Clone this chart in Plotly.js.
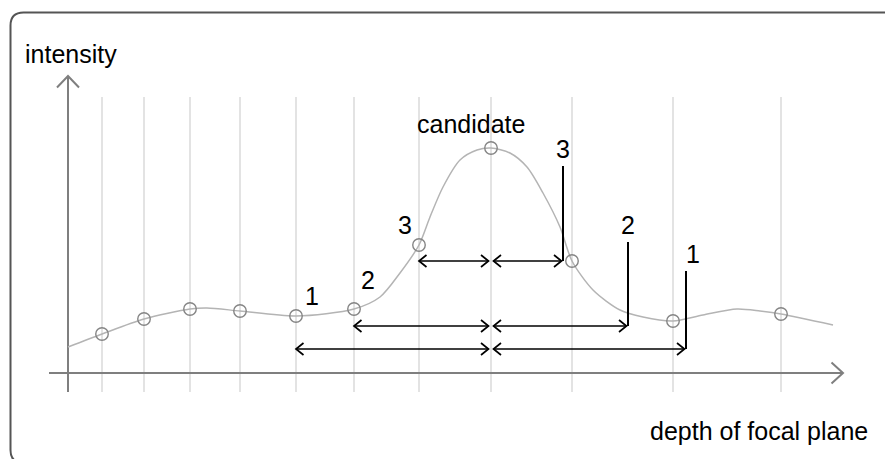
<!DOCTYPE html>
<html>
<head>
<meta charset="utf-8">
<script src="https://cdn.plot.ly/plotly-3.0.1.min.js"></script>
<style>html,body{margin:0;padding:0;background:#fff;}#chart{width:885px;height:459px;}</style>
</head>
<body>
<div id="chart"></div>
<script>
// ---- data ----
// focal-plane samples
const sampleDepth     = [3.4, 7.6, 12.2, 17.2, 22.8, 28.6, 35.1, 42.3, 50.4, 60.5, 71.3];
const sampleIntensity = [3.9, 5.4, 6.4, 6.2, 5.7, 6.4, 12.8, 22.5, 11.2, 5.2, 5.9];
// intensity curve traced through the picture
const curveDepth     = [0, 3.4, 7.6, 12.2, 13.9, 17.2, 22.8, 28.6, 31.2, 33.2, 35.1, 36.2, 37.5, 39.2, 40.9, 42.3, 44.2, 45.9, 47.5, 49.2, 50.4, 52.5, 55.2, 57.5, 60.5, 63.5, 66.9, 69.2, 71.3, 76.5];
const curveIntensity = [2.6, 3.9, 5.4, 6.4, 6.5, 6.2, 5.7, 6.4, 7.6, 10.0, 12.8, 15.6, 18.6, 21.3, 22.3, 22.5, 22.0, 20.6, 18.0, 14.6, 11.2, 8.3, 6.3, 5.6, 5.2, 5.8, 6.4, 6.2, 5.9, 4.8];
const candidateIndex = 7;
const candidateLabel = "candidate";
// neighbour levels: label, index of left sample, arrow height, bracket top
const levelLabels    = ["1", "2", "3"];
const levelLeftIndex = [4, 5, 6];
const levelArrowY    = [2.4, 4.7, 11.2];
const levelBracketTop= [10.2, 13.1, 20.7];
const xAxisTitle = "depth of focal plane";
const yAxisTitle = "intensity";

// ---- geometry / style ----
const GRID_BOTTOM = -1.9, GRID_TOP = 27.6;
const X_AXIS_START = -1.9, X_AXIS_END = 77.5;
const Y_AXIS_START = -1.9, Y_AXIS_END = 29.7;
const FONT = {family: "'Liberation Sans', Arial, sans-serif", size: 25, color: "#000"};

function head(tx, ty, dx, dy, len, spr, xs, ys) {
  const px = -dy, py = dx;
  xs.push(tx - dx*len + px*spr, tx, tx - dx*len - px*spr, null);
  ys.push(ty - dy*len + py*spr, ty, ty - dy*len - py*spr, null);
}

// grid lines at sample depths
const gx = [], gy = [];
sampleDepth.forEach(d => { gx.push(d, d, null); gy.push(GRID_BOTTOM, GRID_TOP, null); });

// axes
const ax = [], ay = [];
ax.push(X_AXIS_START, X_AXIS_END, null); ay.push(0, 0, null);
ax.push(0, 0, null); ay.push(Y_AXIS_START, Y_AXIS_END, null);
head(X_AXIS_END, 0, 1, 0, 1.15, 1.05, ax, ay);
head(0, Y_AXIS_END, 0, 1, 1.15, 1.1, ax, ay);

// brackets and arrows
const cx = sampleDepth[candidateIndex];
const bx = [], by = [], arx = [], ary = [];
const annotations = [];
const GAP = 0.25, HL = 0.75, HS = 0.6;
levelLabels.forEach((lab, i) => {
  const left = sampleDepth[levelLeftIndex[i]];
  const right = 2*cx - left;
  const y = levelArrowY[i];
  bx.push(right, right, null); by.push(y, levelBracketTop[i], null);
  arx.push(left, cx - GAP, null); ary.push(y, y, null);
  head(left, y, -1, 0, HL, HS, arx, ary);
  head(cx - GAP, y, 1, 0, HL, HS, arx, ary);
  const rt = right - 0.15;
  arx.push(cx + GAP, rt, null); ary.push(y, y, null);
  head(cx + GAP, y, -1, 0, HL, HS, arx, ary);
  head(rt, y, 1, 0, HL, HS, arx, ary);
  annotations.push({x: right + (lab === "1" ? 0.7 : 0), y: levelBracketTop[i] + 1.75, xref: 'x', yref: 'y', text: lab,
    showarrow: false, xanchor: 'center', yanchor: 'middle', font: FONT});
});
const leftLabelOffset = [[1.6, 2.05], [1.4, 2.95], [-1.4, 2.05]];
levelLabels.forEach((lab, i) => {
  const k = levelLeftIndex[i];
  annotations.push({x: sampleDepth[k] + leftLabelOffset[i][0], y: sampleIntensity[k] + leftLabelOffset[i][1],
    xref: 'x', yref: 'y', text: lab, showarrow: false, xanchor: 'center', yanchor: 'middle', font: FONT});
});
annotations.push({x: cx - 2.0, y: sampleIntensity[candidateIndex] + 2.45, xref: 'x', yref: 'y', text: candidateLabel,
  showarrow: false, xanchor: 'center', yanchor: 'middle', font: FONT});
annotations.push({x: -4.5, y: 31.95, xref: 'x', yref: 'y', text: yAxisTitle,
  showarrow: false, xanchor: 'left', yanchor: 'middle', font: FONT});
annotations.push({x: 80.2, y: -5.75, xref: 'x', yref: 'y', text: xAxisTitle,
  showarrow: false, xanchor: 'right', yanchor: 'middle', font: FONT});

const traces = [
  {x: gx, y: gy, mode: 'lines', line: {color: '#dadada', width: 1.5}, hoverinfo: 'skip'},
  {x: ax, y: ay, mode: 'lines', line: {color: '#7f7f7f', width: 2}, hoverinfo: 'skip'},
  {x: curveDepth, y: curveIntensity, mode: 'lines', line: {color: '#b4b4b4', width: 1.5, shape: 'spline', smoothing: 0.8}, hoverinfo: 'skip'},
  {x: sampleDepth, y: sampleIntensity, mode: 'markers', marker: {symbol: 'circle-open', size: 12.5, color: '#858585', line: {width: 1.4, color: '#858585'}}, hoverinfo: 'skip'},
  {x: bx, y: by, mode: 'lines', line: {color: '#000', width: 2}, hoverinfo: 'skip'},
  {x: arx, y: ary, mode: 'lines', line: {color: '#000', width: 1.7}, hoverinfo: 'skip'}
];

// rounded frame (pixel geometry -> paper)
const W = 885, H = 459;
const fx = p => p / W, fy = p => 1 - p / H;
const L = 10.5, T = 12.5, R = 13, B = 463;
const framePath = `M ${fx(L+R)},${fy(B)} Q ${fx(L)},${fy(B)} ${fx(L)},${fy(B-R)} L ${fx(L)},${fy(T+R)} Q ${fx(L)},${fy(T)} ${fx(L+R)},${fy(T)} L ${fx(W+20)},${fy(T)}`;

const layout = {
  width: W, height: H,
  margin: {l: 0, r: 0, t: 0, b: 0, pad: 0},
  paper_bgcolor: '#fff', plot_bgcolor: '#fff',
  showlegend: false, hovermode: false,
  xaxis: {range: [-6.8, 81.7], visible: false, fixedrange: true},
  yaxis: {range: [-8.6, 37.3], visible: false, fixedrange: true},
  annotations: annotations,
  shapes: [{type: 'path', xref: 'paper', yref: 'paper', path: framePath, line: {color: '#555', width: 2}}]
};

Plotly.newPlot('chart', traces, layout, {displayModeBar: false, staticPlot: true});
</script>
</body>
</html>
